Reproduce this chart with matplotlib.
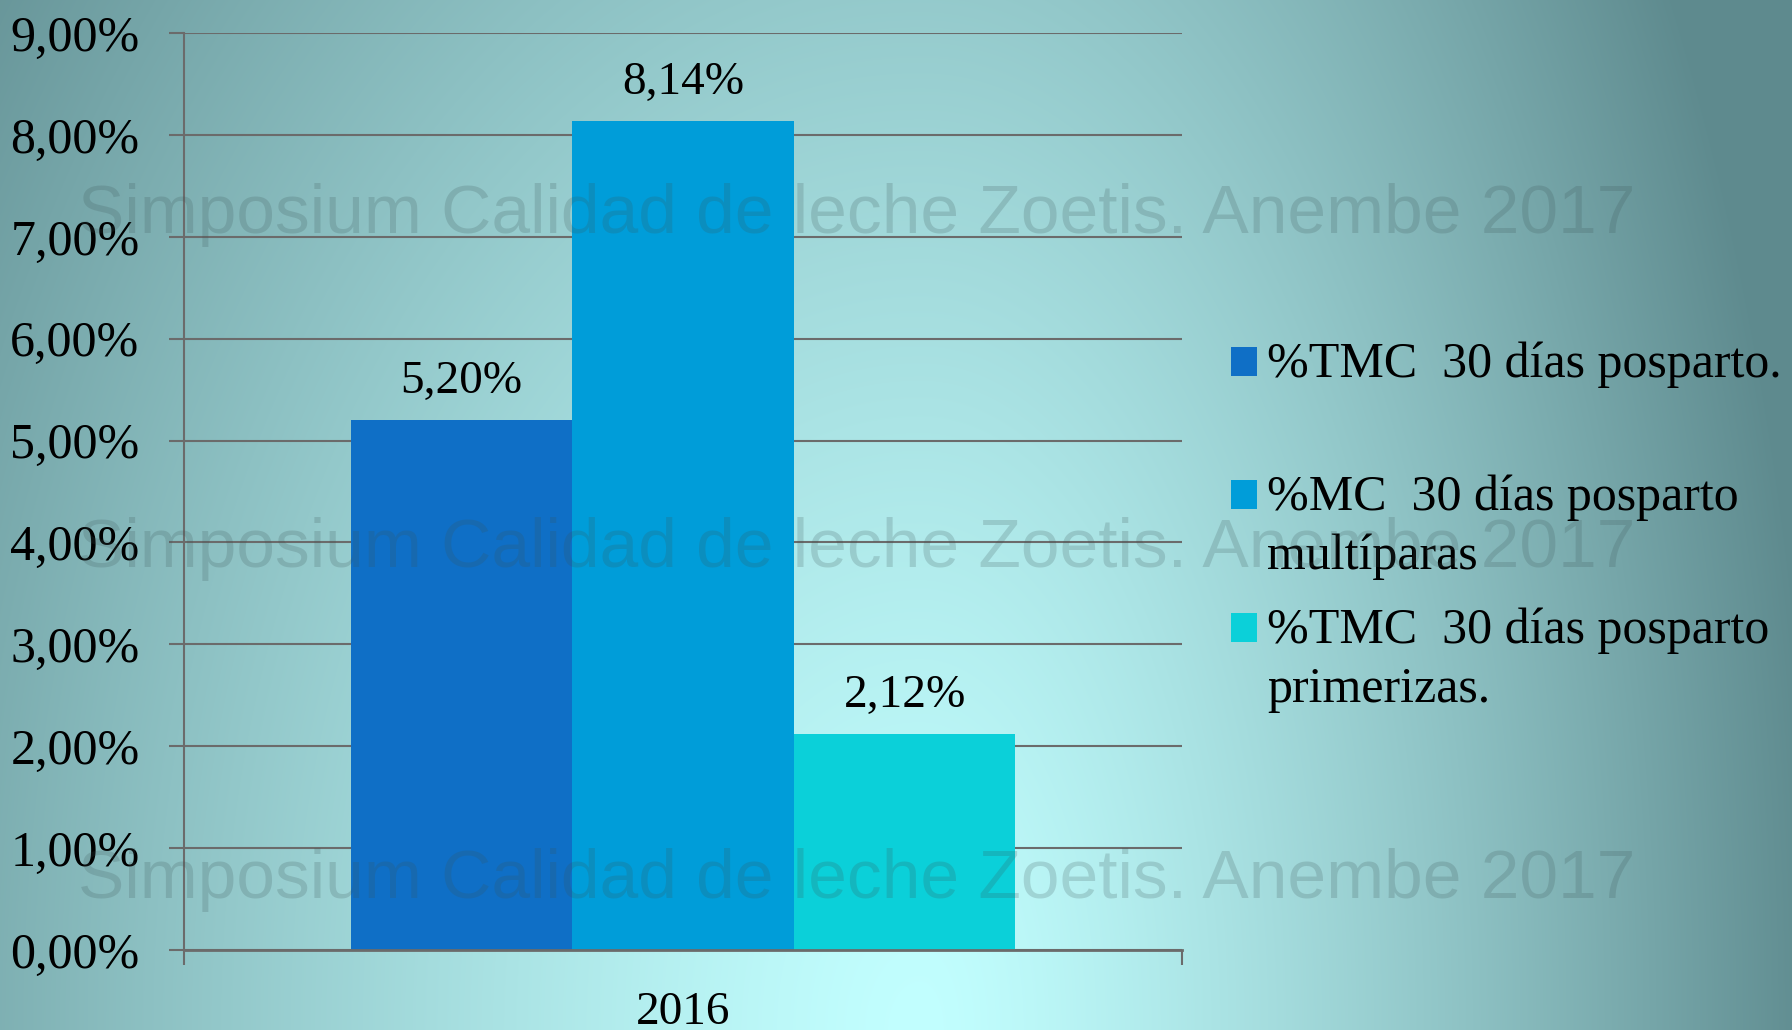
import numpy as np
import matplotlib
matplotlib.use("Agg")
import matplotlib.pyplot as plt

# data
categories = ["2016"]
series = ["%TMC  30 días posparto.\n",
          "%MC  30 días posparto\nmultíparas",
          "%TMC  30 días posparto\nprimerizas."]
values = [5.20, 8.14, 2.12]
colors = ["#0F6FC6", "#009DD9", "#0BD0D9"]
yticks = [0, 1, 2, 3, 4, 5, 6, 7, 8, 9]
watermark = "Simposium Calidad de leche Zoetis. Anembe 2017"

W, H = 1792, 1030
fig = plt.figure(figsize=(W / 100, H / 100), dpi=100)

# background gradient (bright at bottom centre, teal at the edges)
yy, xx = np.mgrid[0:H, 0:W]
dx = xx - 920.0
rx = np.where(dx < 0, 1250.0, 900.0)
dy = 1030.0 - yy
t = np.clip(np.sqrt((dx / rx) ** 2 + (dy / 1900.0) ** 2), 0, 1) ** 1.3
c0 = np.array([0xc2, 0xff, 0xff]) / 255
c1 = np.array([0x5e, 0x8a, 0x8e]) / 255
img = c0 + (c1 - c0) * t[..., None]
bg = fig.add_axes([0, 0, 1, 1], zorder=-10)
bg.imshow(img, aspect="auto", interpolation="bilinear")
bg.axis("off")

serif = "Liberation Serif"
grid_col = "#6b6b6b"

ax = fig.add_axes([0.1027, 0.0777, 0.5569, 0.8903])
ax.set_facecolor("none")

width = 0.222
for i, (v, c, s) in enumerate(zip(values, colors, series)):
    x = np.arange(len(categories)) + (i - 1) * width
    bars = ax.bar(x, [v], width, color=c, label=s, zorder=2)
    ax.bar_label(bars, labels=[f"{v:.2f}%".replace(".", ",")], padding=12,
                 fontsize=34, family=serif, color="black")

ax.set_xlim(-0.5, 0.5)
ax.set_ylim(0, 9)
ax.set_yticks(yticks)
ax.set_yticklabels([f"{v:.2f}%".replace(".", ",") for v in yticks],
                   fontsize=36, family=serif)
ax.tick_params(axis="y", length=11, width=1.5, color=grid_col, pad=21)
ax.set_xticks(range(len(categories)))
ax.set_xticklabels(categories, fontsize=34, family=serif)
ax.tick_params(axis="x", which="major", length=0, pad=30)
ax.set_xticks([-0.5, 0.5], minor=True)
ax.tick_params(axis="x", which="minor", length=11, width=1.5, color=grid_col)
ax.grid(axis="y", color=grid_col, linewidth=1.5)
ax.set_axisbelow(True)
for side in ["top", "right"]:
    ax.spines[side].set_visible(False)
ax.spines["left"].set_color(grid_col)
ax.spines["left"].set_linewidth(1.5)
ax.spines["bottom"].set_color(grid_col)
ax.spines["bottom"].set_linewidth(2)

leg = ax.legend(loc="upper left", bbox_to_anchor=(0.687, 0.668),
                bbox_transform=fig.transFigure, frameon=False,
                prop={"family": serif, "size": 36}, borderpad=0,
                borderaxespad=0, handlelength=0.52, handleheight=0.52,
                handletextpad=0.2, labelspacing=0.55)
for txt in leg.get_texts():
    txt.set_linespacing(1.35)
# put each square on the first line of its label
for h in leg.legend_handles:
    h.set_y(h.get_y() + 24)

for yc in [215, 549, 880]:
    fig.text(78 / W, 1 - yc / H, watermark, ha="left", va="center",
             fontsize=50, family="Liberation Sans",
             color="#3a5254", alpha=0.2, zorder=20)

fig.savefig("out.png", dpi=100)
